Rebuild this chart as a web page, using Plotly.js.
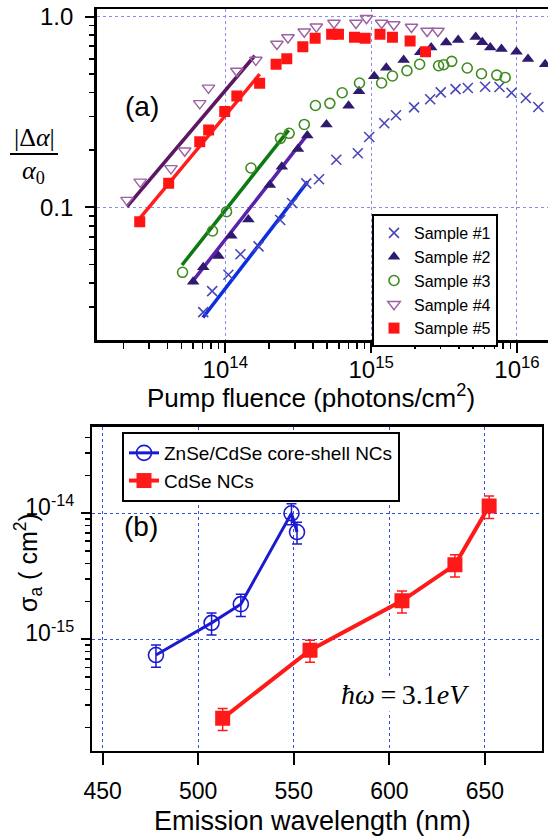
<!DOCTYPE html>
<html>
<head>
<meta charset="utf-8">
<script src="https://cdn.plot.ly/plotly-3.0.1.min.js"></script>
<style>html,body{margin:0;padding:0;background:#fff;overflow:hidden}</style>
</head>
<body>
<div id="chart" style="width:548px;height:839px"></div>
<script>
// ---------- Panel (a): |Δα|/α0 vs pump fluence ----------
const sample1Fluence = [7.06e13, 8.13e13, 1.05e14, 1.27e14, 1.69e14, 2.38e14, 2.87e14, 3.59e14, 4.39e14, 5.77e14, 8.10e14, 9.70e14, 1.23e15, 1.48e15, 1.97e15, 2.54e15, 3.00e15, 3.79e15, 4.60e15, 6.05e15, 7.59e15, 9.17e15, 1.15e16, 1.40e16];
const sample1Ratio   = [0.0282, 0.0363, 0.0443, 0.0567, 0.0624, 0.0858, 0.1053, 0.1336, 0.1404, 0.1777, 0.192, 0.2337, 0.2759, 0.304, 0.3346, 0.369, 0.401, 0.4166, 0.4226, 0.4293, 0.4278, 0.399, 0.3745, 0.336];

const sample2Fluence = [6.02e13, 7.06e13, 8.98e13, 1.10e14, 1.44e14, 2.02e14, 2.44e14, 3.15e14, 3.65e14, 4.94e14, 7.00e14, 8.26e14, 1.05e15, 1.27e15, 1.67e15, 2.17e15, 2.58e15, 3.27e15, 3.95e15, 5.21e15, 5.78e15, 6.56e15, 7.83e15, 9.92e15, 1.19e16, 1.56e16];
const sample2Ratio   = [0.0407, 0.0485, 0.0556, 0.0709, 0.0862, 0.131, 0.163, 0.202, 0.238, 0.272, 0.341, 0.406, 0.487, 0.539, 0.593, 0.651, 0.689, 0.732, 0.755, 0.782, 0.734, 0.689, 0.677, 0.655, 0.600, 0.563];

const sample3Fluence = [5.09e13, 8.17e13, 1.02e14, 1.50e14, 2.39e14, 2.74e14, 3.48e14, 4.15e14, 5.21e14, 6.33e14, 8.32e14, 1.18e15, 1.40e15, 1.76e15, 2.15e15, 2.90e15, 3.14e15, 3.57e15, 4.56e15, 5.71e15, 7.27e15, 8.30e15];
const sample3Ratio   = [0.0456, 0.0751, 0.0948, 0.1608, 0.230, 0.2445, 0.272, 0.342, 0.351, 0.399, 0.449, 0.449, 0.4886, 0.521, 0.563, 0.553, 0.560, 0.583, 0.538, 0.502, 0.494, 0.480];

const sample4Fluence = [2.12e13, 2.61e13, 4.24e13, 5.27e13, 6.68e13, 7.67e13, 1.20e14, 1.62e14, 2.26e14, 2.69e14, 3.48e14, 4.21e14, 5.56e14, 7.87e14, 9.29e14, 1.18e15, 1.43e15, 1.89e15, 2.42e15, 2.87e15];
const sample4Ratio   = [0.109, 0.136, 0.160, 0.198, 0.351, 0.423, 0.519, 0.593, 0.719, 0.778, 0.834, 0.886, 0.927, 0.927, 0.981, 0.927, 0.910, 0.883, 0.841, 0.841];

const sample5Fluence = [2.59e13, 4.09e13, 6.68e13, 7.69e13, 9.91e13, 1.20e14, 1.72e14, 2.23e14, 2.64e14, 3.40e14, 4.13e14, 5.36e14, 5.97e14, 7.69e14, 9.10e14, 1.15e15, 1.40e15, 1.85e15, 2.36e15];
const sample5Ratio   = [0.0840, 0.1336, 0.2209, 0.2543, 0.318, 0.3837, 0.4472, 0.5633, 0.602, 0.696, 0.770, 0.809, 0.809, 0.780, 0.770, 0.809, 0.780, 0.746, 0.655];

// linear (log-log) fits, end points
const fit1Fluence = [7.03e13, 3.67e14]; const fit1Ratio = [0.0264, 0.1363];
const fit2Fluence = [5.82e13, 3.71e14]; const fit2Ratio = [0.0399, 0.2445];
const fit3Fluence = [5.05e13, 2.72e14]; const fit3Ratio = [0.0498, 0.2543];
const fit4Fluence = [2.12e13, 1.59e14]; const fit4Ratio = [0.1007, 0.624];
const fit5Fluence = [2.59e13, 1.72e14]; const fit5Ratio = [0.0876, 0.499];

const sampleNames = ['Sample #1', 'Sample #2', 'Sample #3', 'Sample #4', 'Sample #5'];

const fluenceTickVals = [1e14, 1e15, 1e16];
const fluenceTickText = ['10<sup>14</sup>', '10<sup>15</sup>', '10<sup>16</sup>'];
const ratioTickVals = [0.1, 1];
const ratioTickText = ['0.1', '1.0'];

// ---------- Panel (b): σa vs emission wavelength ----------
const shellWavelength = [477.9, 507.0, 522.3, 548.8, 551.7];
const shellSigma      = [7.5e-16, 1.35e-15, 1.9e-15, 1.0e-14, 7.1e-15];
const shellSigmaErr   = [1.5e-16, 2.7e-16, 3.8e-16, 1.9e-15, 1.4e-15];

const coreWavelength = [512.8, 558.5, 606.6, 634.3, 652.2];
const coreSigma      = [2.36e-16, 8.2e-16, 2.02e-15, 3.9e-15, 1.14e-14];
const coreSigmaErr   = [0.47e-16, 1.64e-16, 4.0e-16, 7.8e-16, 2.3e-15];

const seriesNamesB = ['ZnSe/CdSe core-shell NCs', 'CdSe NCs'];
const wavelengthTickVals = [450, 500, 550, 600, 650];
const sigmaTickVals = [1e-14, 1e-15];
const sigmaTickText = ['10<sup>-14</sup>', '10<sup>-15</sup>'];

// minor tick positions (2..9 per decade)
function minorLog(d0, d1) { const out = []; for (let d = d0; d <= d1; d++) for (let m = 2; m <= 9; m++) out.push(m * Math.pow(10, d)); return out; }

const W = 548, H = 839;
const px = v => v / W, py = v => 1 - v / H;

const fitLine = (x, y, color) => ({ x, y, type: 'scatter', mode: 'lines', line: { color, width: 3.5 }, showlegend: false, hoverinfo: 'skip', xaxis: 'x', yaxis: 'y' });

const traces = [
  fitLine(fit4Fluence, fit4Ratio, '#5c1762'),
  fitLine(fit5Fluence, fit5Ratio, '#ff1e1e'),
  fitLine(fit3Fluence, fit3Ratio, '#0c7a12'),
  fitLine(fit2Fluence, fit2Ratio, '#5a22aa'),
  fitLine(fit1Fluence, fit1Ratio, '#0a2ee0'),
  { x: sample1Fluence, y: sample1Ratio, name: sampleNames[0], type: 'scatter', mode: 'markers',
    marker: { symbol: 'x-thin', size: 10, line: { color: '#4848b8', width: 1.6 }, color: '#4848b8' }, xaxis: 'x', yaxis: 'y' },
  { x: sample2Fluence, y: sample2Ratio, name: sampleNames[1], type: 'scatter', mode: 'markers',
    marker: { symbol: 'triangle-up', size: 11, color: '#2e1a6e' }, xaxis: 'x', yaxis: 'y' },
  { x: sample3Fluence, y: sample3Ratio, name: sampleNames[2], type: 'scatter', mode: 'markers',
    marker: { symbol: 'circle-open', size: 10, color: '#3f8c1e', line: { width: 1.6 } }, xaxis: 'x', yaxis: 'y' },
  { x: sample4Fluence, y: sample4Ratio, name: sampleNames[3], type: 'scatter', mode: 'markers',
    marker: { symbol: 'triangle-down-open', size: 11, color: '#9d62a2', line: { width: 1.4 } }, xaxis: 'x', yaxis: 'y' },
  { x: sample5Fluence, y: sample5Ratio, name: sampleNames[4], type: 'scatter', mode: 'markers',
    marker: { symbol: 'square', size: 11, color: '#ff1414' }, xaxis: 'x', yaxis: 'y' },
  { x: shellWavelength, y: shellSigma, name: seriesNamesB[0], type: 'scatter', mode: 'lines+markers',
    line: { color: '#1a1ad0', width: 3 }, marker: { symbol: 'circle-open', size: 15, color: '#1a1ad0', line: { width: 1.6 } },
    error_y: { type: 'data', array: shellSigmaErr, visible: true, color: '#1a1ad0', thickness: 1.5, width: 5 },
    xaxis: 'x2', yaxis: 'y2', legend: 'legend2' },
  { x: coreWavelength, y: coreSigma, name: seriesNamesB[1], type: 'scatter', mode: 'lines+markers',
    line: { color: '#ff1a1a', width: 4 }, marker: { symbol: 'square', size: 15, color: '#ff1a1a' },
    error_y: { type: 'data', array: coreSigmaErr, visible: true, color: '#ff1a1a', thickness: 1.5, width: 5 },
    xaxis: 'x2', yaxis: 'y2', legend: 'legend2' }
];

const axisBase = { showline: true, linecolor: '#000', linewidth: 2.5, ticks: 'outside', tickcolor: '#000', tickwidth: 2,
  zeroline: false, griddash: 'dot', gridwidth: 1, tickfont: { size: 23, color: '#000' } };

const ann = (text, x, y, font, extra) => Object.assign({ text, x: px(x), y: py(y), xref: 'paper', yref: 'paper', showarrow: false,
  xanchor: 'center', yanchor: 'middle', font }, extra || {});

const layout = {
  width: W, height: H, margin: { l: 0, r: 0, t: 0, b: 0 },
  paper_bgcolor: '#fff', plot_bgcolor: '#fff',
  font: { family: 'Liberation Sans, Arial, sans-serif', color: '#000', size: 18 },
  showlegend: true,
  xaxis: Object.assign({}, axisBase, {
    type: 'log', domain: [px(96.7), 1], range: [13.1183, 16.2126], anchor: 'y', mirror: true,
    tickmode: 'array', tickvals: fluenceTickVals, ticktext: fluenceTickText, ticklen: 10, ticklabelstandoff: -3,
    tickfont: { size: 24, color: '#000' },
    showgrid: true, gridcolor: '#8c8cf0',
    minor: { tickmode: 'array', tickvals: minorLog(13, 16), ticks: 'outside', ticklen: 6, tickwidth: 1.5, tickcolor: '#000', showgrid: false }
  }),
  yaxis: Object.assign({}, axisBase, {
    type: 'log', domain: [py(340), py(9)], range: [-1.6962, 0.0404], anchor: 'x', mirror: false,
    tickmode: 'array', tickvals: ratioTickVals, ticktext: ratioTickText, ticklen: 9, ticklabelstandoff: 7,
    tickfont: { size: 24, color: '#000' },
    showgrid: true, gridcolor: '#8c8cf0',
    minor: { tickmode: 'array', tickvals: minorLog(-2, 0), ticks: 'outside', ticklen: 5, tickwidth: 1.5, tickcolor: '#000', showgrid: false }
  }),
  xaxis2: Object.assign({}, axisBase, {
    type: 'linear', domain: [px(92.3), px(541.7)], range: [444.6, 679.7], anchor: 'y2', mirror: true,
    tickmode: 'array', tickvals: wavelengthTickVals, ticklen: 12, ticklabelstandoff: 6,
    showgrid: true, gridcolor: '#3050e0'
  }),
  yaxis2: Object.assign({}, axisBase, {
    type: 'log', domain: [py(750.7), py(426.7)], range: [-15.884, -13.313], anchor: 'x2', mirror: true,
    tickmode: 'array', tickvals: sigmaTickVals, ticktext: sigmaTickText, ticklen: 9, ticklabelstandoff: 2, ticklabelshift: -6,
    showgrid: true, gridcolor: '#3050e0',
    minor: { tickmode: 'array', tickvals: minorLog(-16, -14), ticks: 'outside', ticklen: 5, tickwidth: 1.5, tickcolor: '#000', showgrid: false }
  }),
  legend: { x: px(372), y: py(214), xanchor: 'left', yanchor: 'top', bgcolor: '#fff', bordercolor: '#000', borderwidth: 2,
    font: { size: 16, color: '#000' }, tracegroupgap: 0 },
  legend2: { x: px(122), y: py(432), xanchor: 'left', yanchor: 'top', bgcolor: '#fff', bordercolor: '#000', borderwidth: 2,
    font: { size: 19, color: '#000' }, tracegroupgap: 0 },
  shapes: [
    { type: 'line', xref: 'paper', yref: 'paper', x0: px(10), x1: px(58), y0: py(154), y1: py(154), line: { color: '#000', width: 2 } }
  ],
  annotations: [
    ann('(a)', 142, 106, { size: 28 }),
    ann('(b)', 141, 526, { size: 28 }),
    ann('|Δ<i>α</i>|', 34, 137, { family: 'Liberation Serif, serif', size: 26 }),
    ann('<i>α</i><sub>0</sub>', 33, 172, { family: 'Liberation Serif, serif', size: 26 }),
    ann('Pump fluence (photons/cm<sup>2</sup>)', 311, 397, { size: 26 }),
    ann('Emission wavelength (nm)', 312, 821, { size: 27 }),
    ann('σ<sub>a</sub> ( cm<sup>2</sup>)', 28, 563, { size: 25 }, { textangle: -90 }),
    ann('<i>ħω</i>\u2009=\u20093.1<i>eV</i>', 405, 694, { family: 'Liberation Serif, serif', size: 28 }, { bgcolor: '#fff' })
  ]
};

Plotly.newPlot('chart', traces, layout, { displayModeBar: false, staticPlot: true });
</script>
</body>
</html>
